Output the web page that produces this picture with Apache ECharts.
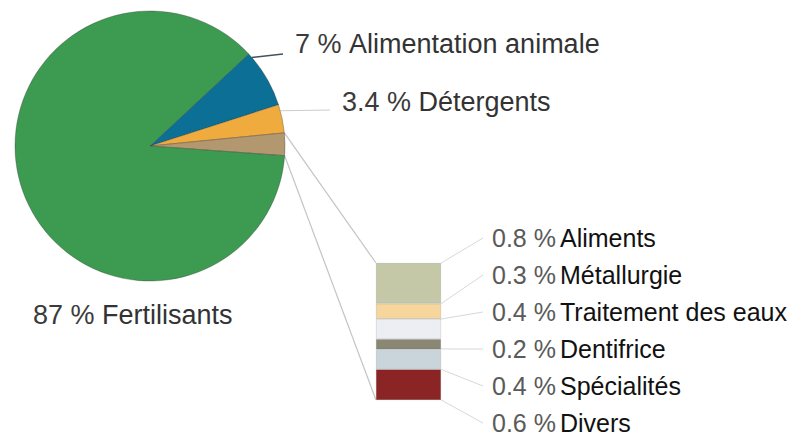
<!DOCTYPE html>
<html><head><meta charset="utf-8">
<script src="https://cdn.jsdelivr.net/npm/echarts@6/dist/echarts.min.js"></script>
<style>html,body{margin:0;padding:0;background:#fff}#c{width:806px;height:438px}</style>
</head><body><div id="c"></div>
<script>
// ---- data ----
const pieNames = ['Alimentation animale', 'Détergents', 'Autres', 'Fertilisants'];
const pieMainValues = { 'Alimentation animale': 7, 'Détergents': 3.4, 'Fertilisants': 87 };
const barNames = ['Aliments', 'Métallurgie', 'Traitement des eaux', 'Dentifrice', 'Spécialités', 'Divers'];
const barValues = [0.8, 0.3, 0.4, 0.2, 0.4, 0.6];

// ---- styles / layout ----
const FONT = '"Liberation Sans", Arial, sans-serif';
const pieColors = ['#0c6f96', '#efab3d', '#b3976f', '#3d9a51'];
const barColors = ['#c4c8a6', '#f6d69d', '#eceef3', '#8a8775', '#cad5db', '#8b2424'];
const pieCenter = [150, 146], pieRadius = 135, pieStart = 43;
const pieLabelPos = { 0: [295, 44], 1: [342, 102], 3: [33, 315] };
const pieLeaders = { 0: { frac: 0.08, end: [283, 54], color: '#44525c', width: 1.5 },
                     1: { frac: 0.22, end: [330, 110], color: '#cccccc', width: 1.2 } };
const barGrid = { left: 376, top: 263, width: 65, height: 137 };
const barLabelX = 483, barLabelY0 = 238, barLabelGap = 37;

const otherTotal = Math.round(barValues.reduce((a, b) => a + b, 0) * 10) / 10;
const pieValues = pieNames.map(n => n === 'Autres' ? otherTotal : pieMainValues[n]);

const chart = echarts.init(document.getElementById('c'), null, { renderer: 'svg' });

const series = [{
  type: 'pie', center: pieCenter, radius: pieRadius, startAngle: pieStart, clockwise: true,
  animation: false, silent: true, avoidLabelOverlap: false,
  itemStyle: { borderColor: 'rgba(40,40,40,0.45)', borderWidth: 0.7 },
  label: {
    show: true, position: 'inside', fontFamily: FONT, overflow: 'none',
    formatter: p => '{v|' + p.value + ' % }{n|' + p.name + '}',
    rich: { v: { fontSize: 27, color: '#3b3b3b', fontFamily: FONT },
            n: { fontSize: 27, color: '#333333', fontFamily: FONT } }
  },
  labelLine: { show: false },
  labelLayout: p => {
    const pos = pieLabelPos[p.dataIndex];
    return pos ? { x: pos[0], y: pos[1], align: 'left', verticalAlign: 'middle', rotate: 0 } : {};
  },
  data: pieNames.map((n, i) => ({
    name: n, value: pieValues[i], itemStyle: { color: pieColors[i] },
    label: { show: n !== 'Autres' }
  }))
}];

barNames.forEach((n, i) => {
  series.push({
    type: 'bar', name: n, stack: 'autres', barWidth: '100%', animation: false, silent: true,
    itemStyle: { color: barColors[i], borderColor: 'rgba(0,0,0,0.18)', borderWidth: 0.6 },
    label: {
      show: true, position: 'right', padding: [0, 0, 0, 9], lineHeight: 22,
      formatter: p => '{v|' + p.value + ' %}{n|' + p.seriesName + '}',
      rich: { v: { fontSize: 25, color: '#5a5a5a', width: 68, lineHeight: 22, fontFamily: FONT },
              n: { fontSize: 25, color: '#111111', lineHeight: 22, fontFamily: FONT } }
    },
    labelLine: { show: true, lineStyle: { color: '#d8d8d8', width: 1 } },
    labelLayout: () => ({ x: barLabelX, y: barLabelY0 + i * barLabelGap, align: 'left', verticalAlign: 'middle' }),
    data: [barValues[i]]
  });
});

chart.setOption({
  backgroundColor: '#ffffff',
  animation: false,
  grid: { left: barGrid.left, top: barGrid.top, width: barGrid.width, height: barGrid.height },
  xAxis: { type: 'category', data: ['Autres'], show: false },
  yAxis: { type: 'value', min: 0, max: otherTotal, inverse: true, show: false },
  series
});

// ---- leader lines computed from the pie / bar layout ----
const total = pieValues.reduce((a, b) => a + b, 0);
function sliceAngles(idx) {
  let a = pieStart;
  for (let i = 0; i < idx; i++) a -= pieValues[i] / total * 360;
  return [a, a - pieValues[idx] / total * 360];
}
function edgePoint(deg) {
  const r = deg * Math.PI / 180;
  return [pieCenter[0] + pieRadius * Math.cos(r), pieCenter[1] - pieRadius * Math.sin(r)];
}
const graphics = [];
Object.keys(pieLeaders).forEach(k => {
  const L = pieLeaders[k];
  const [s, e] = sliceAngles(+k);
  const p = edgePoint(s + (e - s) * L.frac);
  graphics.push({ type: 'line', silent: true, shape: { x1: p[0], y1: p[1], x2: L.end[0], y2: L.end[1] },
                  style: { stroke: L.color, lineWidth: L.width } });
});
const oIdx = pieNames.indexOf('Autres');
const [os, oe] = sliceAngles(oIdx);
const pTop = edgePoint(os), pBot = edgePoint(oe);
const yTop = chart.convertToPixel({ yAxisIndex: 0 }, 0);
const yBot = chart.convertToPixel({ yAxisIndex: 0 }, otherTotal);
graphics.push({ type: 'line', silent: true, shape: { x1: pTop[0], y1: pTop[1], x2: barGrid.left, y2: yTop },
                style: { stroke: '#c4c4c4', lineWidth: 1.2 } });
graphics.push({ type: 'line', silent: true, shape: { x1: pBot[0], y1: pBot[1], x2: barGrid.left, y2: yBot },
                style: { stroke: '#c4c4c4', lineWidth: 1.2 } });
chart.setOption({ graphic: graphics });
</script></body></html>
